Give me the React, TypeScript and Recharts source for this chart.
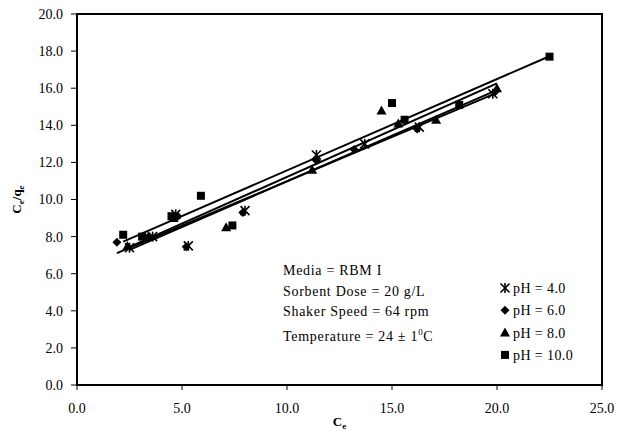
import React from 'react';
import { ReferenceArea, ReferenceLine, Scatter, ScatterChart, XAxis, YAxis } from 'recharts';

const seriesNames = ['pH = 4.0', 'pH = 6.0', 'pH = 8.0', 'pH = 10.0'];

const ph4Ce = [2.5, 3.6, 4.7, 5.3, 8.0, 11.4, 13.7, 16.3, 19.8];
const ph4Ratio = [7.4, 8.0, 9.2, 7.5, 9.4, 12.4, 13.0, 13.9, 15.7];

const ph6Ce = [1.9, 3.3, 4.8, 5.2, 7.9, 11.4, 13.2, 16.2, 19.9];
const ph6Ratio = [7.7, 7.9, 9.1, 7.45, 9.3, 12.1, 12.7, 13.8, 15.8];

const ph8Ce = [2.4, 3.4, 4.6, 7.1, 11.2, 14.5, 15.3, 17.1, 20.0];
const ph8Ratio = [7.5, 8.0, 9.0, 8.5, 11.6, 14.8, 14.1, 14.3, 16.0];

const ph10Ce = [2.2, 3.1, 4.5, 5.9, 7.4, 15.0, 15.6, 18.2, 22.5];
const ph10Ratio = [8.1, 8.0, 9.1, 10.2, 8.6, 15.2, 14.3, 15.1, 17.7];

const xTicks = [0, 5, 10, 15, 20, 25];
const yTicks = [0, 2, 4, 6, 8, 10, 12, 14, 16, 18, 20];

const notes = ['Media = RBM I', 'Sorbent Dose = 20 g/L', 'Shaker Speed = 64 rpm'];

const serif = 'Liberation Serif, Times New Roman, serif';
const tickStyle = { fill: '#000', fontSize: 14, fontFamily: serif };

const zip = (xs: number[], ys: number[]) => xs.map((x, i) => ({ x, y: ys[i] }));

// least squares trendline, drawn across the range of the series
function trend(xs: number[], ys: number[]) {
  const n = xs.length;
  const mx = xs.reduce((a, b) => a + b, 0) / n;
  const my = ys.reduce((a, b) => a + b, 0) / n;
  let sxy = 0;
  let sxx = 0;
  xs.forEach((x, i) => {
    sxy += (x - mx) * (ys[i] - my);
    sxx += (x - mx) * (x - mx);
  });
  const slope = sxy / sxx;
  const b = my - slope * mx;
  const x0 = Math.min(...xs);
  const x1 = Math.max(...xs);
  return [{ x: x0, y: b + slope * x0 }, { x: x1, y: b + slope * x1 }];
}

const Star = ({ cx, cy }: any) => (
  <g stroke="#000" strokeWidth={1.6}>
    <line x1={cx - 4.5} y1={cy - 4.5} x2={cx + 4.5} y2={cy + 4.5} />
    <line x1={cx - 4.5} y1={cy + 4.5} x2={cx + 4.5} y2={cy - 4.5} />
    <line x1={cx} y1={cy - 5} x2={cx} y2={cy + 5} />
  </g>
);
const Diamond = ({ cx, cy }: any) => (
  <polygon points={`${cx},${cy - 4.5} ${cx + 4.5},${cy} ${cx},${cy + 4.5} ${cx - 4.5},${cy}`} fill="#000" />
);
const Tri = ({ cx, cy }: any) => (
  <polygon points={`${cx},${cy - 5} ${cx + 5},${cy + 4} ${cx - 5},${cy + 4}`} fill="#000" />
);
const Sq = ({ cx, cy }: any) => <rect x={cx - 4} y={cy - 4} width={8} height={8} fill="#000" />;

const shapes = [Star, Diamond, Tri, Sq];

const series = [
  { name: seriesNames[0], data: zip(ph4Ce, ph4Ratio), line: trend(ph4Ce, ph4Ratio) },
  { name: seriesNames[1], data: zip(ph6Ce, ph6Ratio), line: trend(ph6Ce, ph6Ratio) },
  { name: seriesNames[2], data: zip(ph8Ce, ph8Ratio), line: trend(ph8Ce, ph8Ratio) },
  { name: seriesNames[3], data: zip(ph10Ce, ph10Ratio), line: trend(ph10Ce, ph10Ratio) }
];

const XTitle = ({ viewBox }: any) => (
  <text x={viewBox.x + viewBox.width / 2} y={viewBox.y + 41} textAnchor="middle" fontSize={13} fontWeight="bold" fontFamily={serif}>
    C<tspan fontSize={9} dy={3}>e</tspan>
  </text>
);

const YTitle = ({ viewBox }: any) => {
  const x = viewBox.x + 4;
  const y = viewBox.y + viewBox.height / 2;
  return (
    <text x={x} y={y} transform={`rotate(-90 ${x} ${y})`} textAnchor="middle" fontSize={13} fontWeight="bold" fontFamily={serif}>
      C<tspan fontSize={9} dy={3}>e</tspan><tspan dy={-3}>/q</tspan><tspan fontSize={9} dy={3}>e</tspan>
    </text>
  );
};

export default function App() {
  return (
    <div style={{ position: 'absolute', left: 0, top: 0, width: 627, height: 434, background: '#fff', fontFamily: serif }}>
      <ScatterChart width={627} height={434} margin={{ top: 14, right: 25, bottom: 19, left: 17 }}>
        <XAxis
          type="number"
          dataKey="x"
          domain={[0, 25]}
          ticks={xTicks}
          tickFormatter={(v: number) => v.toFixed(1)}
          tick={tickStyle}
          axisLine={{ stroke: '#000', strokeWidth: 2 }}
          tickLine={{ stroke: '#000' }}
          tickSize={5}
          tickMargin={13}
          height={30}
          label={{ content: XTitle }}
        />
        <YAxis
          type="number"
          dataKey="y"
          domain={[0, 20]}
          ticks={yTicks}
          tickFormatter={(v: number) => v.toFixed(1)}
          tick={tickStyle}
          axisLine={{ stroke: '#000', strokeWidth: 2 }}
          tickLine={{ stroke: '#000' }}
          tickSize={6}
          tickMargin={8}
          width={60}
          label={{ content: YTitle }}
        />
        <ReferenceArea x1={0} x2={25} y1={0} y2={20} fill="none" stroke="#000" strokeWidth={2} />
        {series.map((s) => (
          <ReferenceLine key={`l-${s.name}`} segment={s.line} stroke="#000" strokeWidth={2} />
        ))}
        {series.map((s, i) => (
          <Scatter key={s.name} name={s.name} data={s.data} shape={shapes[i]} isAnimationActive={false} />
        ))}
      </ScatterChart>
      <svg width={627} height={434} style={{ position: 'absolute', left: 0, top: 0, pointerEvents: 'none' }}>
        {notes.map((t, i) => (
          <text key={t} x={283} y={275 + i * 20.5} fontSize={14} fontFamily={serif} letterSpacing={0.7} fill="#000">
            {t}
          </text>
        ))}
        <text x={283} y={341} fontSize={14} fontFamily={serif} letterSpacing={0.7} fill="#000">
          Temperature = 24 ± 1<tspan fontSize={9} dy={-6}>0</tspan><tspan dy={6}>C</tspan>
        </text>
        {seriesNames.map((name, i) => {
          const Shape = shapes[i];
          const cy = 288 + i * 22.3;
          return (
            <g key={name}>
              <Shape cx={505} cy={cy} />
              <text x={513} y={cy + 5} fontSize={14} fontFamily={serif} letterSpacing={0.4} fill="#000">
                {name}
              </text>
            </g>
          );
        })}
      </svg>
    </div>
  );
}
